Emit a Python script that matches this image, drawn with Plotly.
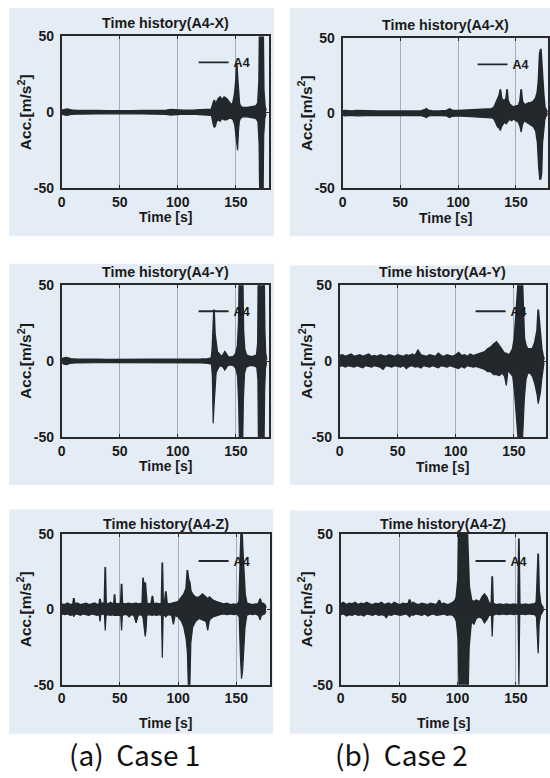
import plotly.graph_objects as go

# ---------------------------------------------------------------
# Acceleration time histories at sensor A4 (peak envelopes, m/s^2)
# Each record: time [s], upper peaks, lower peaks
# ---------------------------------------------------------------

# Case 1 - X direction
c1x_t = [0, 1, 3, 5, 7, 9, 12, 20, 30, 40, 50, 60, 70, 80, 90, 94, 97, 100, 105, 115, 125,
         129, 130.5, 131.5, 132.5, 133.5, 135, 136.5, 138, 140, 142, 144, 146, 147.5, 149,
         150, 150.8, 151.5, 152.3, 153, 154, 156, 160, 164, 167, 169, 170, 170.6, 172, 173.4,
         174, 175, 176]
c1x_hi = [1.2, 1.5, 1.8, 2.0, 1.6, 1.3, 1.2, 1.0, 1.1, 1.0, 1.2, 1.0, 1.1, 1.0, 1.3, 1.8, 1.6,
          1.3, 1.2, 1.4, 1.6, 2.0, 6, 8, 5, 7, 9, 10, 8, 10, 9, 7, 5, 6, 12, 20, 32, 22, 10, 6,
          4, 3, 3, 3.5, 4, 6, 20, 60, 60, 60, 15, 4, 1]
c1x_lo = [-1.2, -1.5, -1.8, -2.0, -1.6, -1.3, -1.2, -1.0, -1.1, -1.0, -1.2, -1.0, -1.1, -1.0,
          -1.3, -1.8, -1.6, -1.3, -1.2, -1.4, -1.6, -2.0, -8, -10, -9, -6, -5, -6, -4, -5, -5,
          -4, -4, -5, -8, -15, -18, -25, -12, -6, -4, -3, -3, -3.5, -4, -6, -20, -60, -60, -60,
          -15, -4, -1]

# Case 2 - X direction
c2x_t = [0, 2, 5, 8, 12, 18, 25, 32, 40, 48, 55, 62, 68, 71, 72.5, 74, 78, 85, 90, 92.5, 95,
         100, 108, 115, 120, 125, 129, 131, 132.5, 134, 135.5, 136.5, 137.5, 138.5, 140, 141.5,
         142.3, 143, 144.5, 146, 148, 150, 152, 153.5, 154.5, 155.5, 157, 159, 161, 163, 165,
         167, 168.5, 169.5, 170.5, 171.5, 172.3, 173, 174, 175, 176, 177]
c2x_hi = [1.5, 1.8, 1.6, 1.4, 1.7, 1.5, 1.6, 1.4, 1.5, 1.6, 1.5, 1.7, 1.6, 2.2, 3.0, 2.0, 1.5,
          1.6, 1.8, 2.8, 2.0, 1.8, 2.0, 2.4, 2.6, 2.8, 3, 4, 7, 9, 12, 16, 10, 9, 8, 10, 16, 9,
          6, 5, 4, 5, 5, 8, 16, 8, 6, 6, 7, 7, 8, 10, 14, 22, 40, 43, 30, 25, 12, 4, 2, 1]
c2x_lo = [-1.5, -1.8, -1.6, -1.4, -1.7, -1.5, -1.6, -1.4, -1.5, -1.6, -1.5, -1.7, -1.6, -2.2,
          -3.0, -2.0, -1.5, -1.6, -1.8, -2.8, -2.0, -1.8, -2.0, -2.4, -2.6, -2.8, -3, -4, -7,
          -9, -10, -11.5, -9, -8, -6, -7, -6, -5, -4, -5, -4, -5, -6, -9, -12.6, -8, -5, -6, -7,
          -8, -9, -12, -20, -35, -44, -44, -40, -20, -10, -4, -2, -1]

# Case 1 - Y direction
c1y_t = [0, 2, 4, 6, 8, 12, 20, 30, 40, 50, 60, 70, 80, 90, 100, 110, 120, 126, 129, 129.8,
         130.5, 131.2, 132, 133, 134, 135.5, 137, 139, 140.5, 141.5, 143, 145, 148, 150, 151.5,
         152.5, 153.2, 155.8, 156.5, 157.5, 159, 162, 165, 168, 169, 169.5, 174.2, 174.8,
         175.5, 176.5]
c1y_hi = [1, 2, 2.3, 1.8, 1.4, 1.2, 1, 1.1, 1, 1, 1.1, 1, 1, 1.1, 1, 1.1, 1.2, 1.5, 2, 8, 20,
          34, 18, 10, 6, 5, 3, 4, 6, 5, 3, 2.5, 3, 5, 10, 25, 60, 60, 20, 8, 4, 3, 3, 4, 12, 60,
          60, 20, 5, 1]
c1y_lo = [-1, -2, -2.3, -1.8, -1.4, -1.2, -1, -1.1, -1, -1, -1.1, -1, -1, -1.1, -1, -1.1,
          -1.2, -1.5, -2, -10, -41, -30, -16, -8, -6, -4, -3, -4, -6, -5, -3, -2.5, -3, -5,
          -10, -30, -60, -60, -25, -8, -4, -3, -3, -4, -12, -60, -60, -20, -5, -1]

# Case 2 - Y direction
c2y_t = [0, 2.5, 5, 7.5, 10, 12.5, 15, 17.5, 20, 22.5, 25, 27.5, 30, 32.5, 35, 37.5, 40, 42.5,
         45, 47.5, 50, 52.5, 55, 57.5, 60, 62.5, 65, 67.5, 70, 72.5, 75, 77.5, 80, 82.5, 85,
         87.5, 90, 92.5, 95, 97.5, 100, 102.5, 105, 107.5, 110, 112.5, 115, 117.5, 120, 122.5,
         125, 127.5, 130, 132.5, 135, 137.5, 140, 142, 143.5, 145, 147, 149, 150.5, 152, 153.5,
         154.5, 157, 158, 159, 160.5, 162, 164, 166, 168, 170, 171, 172, 173, 174, 175, 176]
c2y_hi = [3.5, 4, 3, 3.5, 4.5, 3, 3.5, 4, 3, 3.5, 4.5, 3, 3.5, 3, 4, 3.5, 3, 4, 3.5, 3, 4, 3.5,
          3, 4, 3.5, 4.5, 3.5, 7, 4, 3.5, 3, 4, 3.5, 3, 5, 3.5, 3, 4, 3.5, 3, 4, 5.5, 3.5, 4, 3,
          4.5, 3.5, 4, 4.5, 5.5, 6, 8, 9, 11, 12.5, 10, 7, 5, 5, 4, 5, 8, 15, 30, 45, 60, 60, 30,
          15, 10, 8, 8, 8, 12, 20, 34, 25, 15, 8, 4, 1]
c2y_lo = [-3.5, -3, -4, -3, -3.5, -4, -3, -3.5, -4.5, -3, -3.5, -4, -3, -3.5, -4, -5.5, -3,
          -3.5, -4, -3, -3.5, -4, -3, -5, -3.5, -3, -4, -3.5, -4.5, -3, -3.5, -4, -3, -3.5,
          -4.5, -3, -3.5, -4, -3, -3.5, -4, -5, -3.5, -4.5, -3, -3.5, -4, -3.5, -4, -5, -5.5,
          -7, -7, -9, -9, -9.5, -8, -10, -16, -6, -8, -10, -20, -40, -60, -60, -60, -40, -25,
          -12, -8, -8, -10, -15, -22, -28, -25, -20, -12, -6, -1]

# Case 1 - Z direction
c1z_t = [0, 2.5, 5, 7.5, 9.8, 10.5, 11.2, 13.5, 16, 18.5, 21, 23.5, 26, 28.5, 30.5, 32.3, 33,
         33.7, 35.5, 36.8, 37.5, 38.2, 40, 42, 44, 45, 45.5, 46, 48, 50.8, 51.5, 52.2, 54, 56,
         58, 60, 62, 64, 66, 68, 69.3, 70, 71, 71.8, 72.5, 73.2, 75, 77, 78, 79, 81.5, 84,
         85.8, 86.5, 87.2, 88.5, 89.5, 90.5, 92.5, 94.5, 96, 97.5, 100, 103, 105, 107, 108,
         109, 110, 111, 112.5, 115, 118, 121, 124, 125.5, 127, 130, 133, 136, 139, 142, 145,
         148, 150.5, 152.5, 153.5, 154.5, 155.5, 156.5, 157.5, 159, 161.5, 164, 166.5, 169,
         170.5, 171.5, 173, 174.5, 175.5]
c1z_hi = [3.5, 3, 4, 3, 3.5, 7.5, 3.5, 4, 3, 3.5, 4, 3, 3.5, 4, 3, 3.5, 7, 3.5, 4, 3.5, 28, 4,
          3.5, 4.5, 3.5, 4, 10, 4, 3.5, 4, 17, 4, 3.5, 4, 4, 3.5, 4, 4, 3.5, 4, 4, 21, 8, 18, 6,
          4, 3.5, 4, 9, 3.5, 4, 3.5, 4, 31, 4, 4.5, 12, 4, 3.5, 4, 4, 4.5, 5, 8, 10, 14, 26, 20,
          18, 12, 10, 8, 8, 10, 8, 7, 8, 6, 5, 4, 3.5, 4, 3, 3.5, 3, 5, 60, 60, 40, 22, 10, 4,
          3.5, 3, 3.5, 3.5, 7, 4, 4, 3, 1]
c1z_lo = [-3, -3.5, -3, -4, -3.5, -5, -3.5, -3, -4, -3, -3.5, -4, -3, -3.5, -4, -3.5, -8, -3.5,
          -3, -3.5, -14, -4, -3.5, -4, -3.5, -4, -4, -4, -3.5, -4, -14, -4, -3.5, -3.5, -5,
          -3.5, -4, -9, -3.5, -4, -4, -6, -12, -18, -14, -4, -3.5, -4, -4, -3.5, -4, -3.5, -4,
          -32, -4, -4, -5, -4, -3.5, -4, -10, -4, -5, -8, -12, -20, -28, -55, -55, -22, -12,
          -8, -6, -7, -8, -14, -7, -5, -4, -3.5, -3, -3.5, -3, -3.5, -3, -5, -30, -46, -40,
          -25, -12, -4, -3, -3.5, -3, -4, -7, -4, -3.5, -3, -1]

# Case 2 - Z direction
c2z_t = [0, 2.5, 5, 7.5, 10, 12.5, 15, 17.5, 20, 22.5, 25, 27.5, 30, 32.5, 35, 37.5, 39, 41,
         43.5, 46, 48.5, 51, 53.5, 56, 58, 59, 60.5, 62, 64.5, 67, 69.5, 72, 74.5, 77, 79.5,
         82, 84.5, 86, 88.5, 91, 93.5, 96, 98, 99, 100.5, 101.5, 108, 109, 110, 112, 114, 116,
         119, 121, 123, 125, 127, 129, 129.7, 130.4, 133, 136, 139, 142, 145, 148, 150.5,
         151.8, 152.5, 153.2, 155, 158, 161, 164, 166, 167.5, 168.3, 169, 169.8, 171, 172.5,
         173.5]
c2z_hi = [3.5, 4.5, 3, 4, 3.5, 4.5, 3, 4, 3.5, 4.5, 3.5, 3, 4, 3.5, 4.5, 3, 3.5, 4, 3, 4.5,
          3.5, 3, 4, 3.5, 4, 6.5, 3.5, 4.5, 3.5, 3, 4, 3.5, 3, 4, 3.5, 3, 6, 3.5, 4, 3, 3.5,
          4.5, 6, 8, 20, 60, 60, 35, 15, 6, 5, 6, 5, 8, 10, 8, 4, 4, 22, 4, 3, 3.5, 3, 3.5, 3,
          3.5, 3, 3.5, 47, 3.5, 3, 3.5, 3, 3.5, 3.5, 5, 28, 37, 12, 4, 2, 0.5]
c2z_lo = [-3.5, -3, -4.5, -3.5, -4, -3, -4, -3.5, -4.5, -3, -3.5, -4, -3, -4, -3.5, -4, -5.5,
          -3.5, -4, -3, -3.5, -4, -3.5, -3, -4, -5, -3.5, -4, -3, -3.5, -4, -3, -4.5, -3.5, -3,
          -4, -4, -3.5, -3, -4, -3.5, -4, -6, -8, -20, -60, -60, -60, -25, -8, -10, -6, -5, -6,
          -9, -7, -4, -4, -18, -4, -3, -3.5, -3, -3.5, -3, -3.5, -3, -3.5, -50, -3.5, -3, -3.5,
          -3, -3.5, -3.5, -5, -22, -29, -10, -4, -2, -0.5]

# Axis labels and titles
panel_titles = ["Time history(A4-X)", "Time history(A4-X)",
                "Time history(A4-Y)", "Time history(A4-Y)",
                "Time history(A4-Z)", "Time history(A4-Z)"]
x_ticks = [0, 50, 100, 150]
y_ticks = [-50, 0, 50]
y_tick_text = ["-50", "0", "50"]
legend_name = "A4"
x_label = "Time [s]"
y_label = "Acc.[m/s<sup>2</sup>]"
case_labels = ["(a)\u00a0\u00a0Case\u00a01", "(b)\u00a0\u00a0Case\u00a02"]

records = [(c1x_t, c1x_hi, c1x_lo), (c2x_t, c2x_hi, c2x_lo),
           (c1y_t, c1y_hi, c1y_lo), (c2y_t, c2y_hi, c2y_lo),
           (c1z_t, c1z_hi, c1z_lo), (c2z_t, c2z_hi, c2z_lo)]
for t, hi, lo in records:
    assert len(t) == len(hi) == len(lo), (len(t), len(hi), len(lo))

# ---------------------------------------------------------------
# Layout geometry (pixels in a 550 x 778 page)
# ---------------------------------------------------------------
W, H = 550, 778
FONT = "Liberation Sans, Arial, sans-serif"
INK = "#1a1a1a"
SIG = "#23282d"
PAPER_BLUE = "#e4ecf5"
GRID = "rgba(110,122,140,0.55)"

# plot boxes: left, right, top, bottom
boxes = [(58, 267, 29, 184), (341, 548, 31, 184),
         (58, 267, 283, 438), (338, 546, 283, 438),
         (58, 268, 537, 691), (339, 546, 537, 691)]
x_max = [178.6, 177.7, 178.6, 177.7, 179.0, 175.7]
title_y = [15, 17, 270, 270, 527, 527]
xlabel_y = [213, 214, 468, 469, 730, 730]
ylabel_x = [21, 304, 21, 304, 21, 304]
legend_xy = [(191, 56), (472, 58), (191, 310), (470, 310), (191, 565), (470, 565)]
# scanned-paper backgrounds behind each panel: x0, x1, y0, y1
sheets = [(5, 272, 0, 233), (288, 550, 0, 233),
          (5, 272, 261, 487), (288, 550, 263, 487),
          (5, 271, 512, 741), (288, 550, 513, 741)]


def fx(px):
    return px / W


def fy(py):
    return 1 - py / H


fig = go.Figure()
layout = dict(
    width=W, height=H,
    margin=dict(l=0, r=0, t=0, b=0),
    paper_bgcolor="white",
    plot_bgcolor="rgba(0,0,0,0)",
    font=dict(family=FONT, color=INK),
    shapes=[], annotations=[],
)

for i, ((t, hi, lo), (l, r, tp, bt)) in enumerate(zip(records, boxes), start=1):
    sfx = "" if i == 1 else str(i)
    leg = "legend" + sfx
    fig.add_trace(go.Scatter(
        x=t, y=hi, mode="lines", name=legend_name,
        line=dict(color=SIG, width=1.8),
        xaxis="x" + sfx, yaxis="y" + sfx, legend=leg, showlegend=True,
        hoverinfo="skip"))
    fig.add_trace(go.Scatter(
        x=t, y=lo, mode="lines", name=legend_name,
        line=dict(color=SIG, width=1.2),
        fill="tonexty", fillcolor=SIG,
        xaxis="x" + sfx, yaxis="y" + sfx, legend=leg, showlegend=False,
        hoverinfo="skip"))

    layout["xaxis" + sfx] = dict(
        domain=[fx(l), fx(r)], anchor="y" + sfx, range=[0, x_max[i - 1]],
        tickvals=x_ticks, showgrid=True, gridcolor=GRID, gridwidth=1,
        zeroline=False, showline=True, linecolor="#2a2a2a", linewidth=1.6,
        mirror="ticks", ticks="inside", ticklen=3, tickcolor="#2a2a2a",
        tickfont=dict(size=14, color=INK, weight="bold"), ticklabelstandoff=0)
    layout["yaxis" + sfx] = dict(
        domain=[fy(bt), fy(tp)], anchor="x" + sfx, range=[-50, 50],
        tickvals=y_ticks, ticktext=y_tick_text, showgrid=False, zeroline=False,
        showline=True, linecolor="#2a2a2a", linewidth=1.6, mirror="ticks",
        ticks="inside", ticklen=3, tickcolor="#2a2a2a",
        tickfont=dict(size=14, color=INK, weight="bold"), ticklabelstandoff=3)

    lx, ly = legend_xy[i - 1]
    layout[leg] = dict(
        x=fx(lx), y=fy(ly), xanchor="left", yanchor="middle",
        bgcolor="rgba(0,0,0,0)", borderwidth=0, itemwidth=30,
        font=dict(family=FONT, size=12.5, color=INK, weight="bold"))

    sx0, sx1, sy0, sy1 = sheets[i - 1]
    layout["shapes"].append(dict(
        type="rect", xref="paper", yref="paper", layer="below",
        x0=fx(sx0), x1=fx(sx1), y0=fy(sy1), y1=fy(sy0),
        fillcolor=PAPER_BLUE, line=dict(width=0)))

    cx = (l + r) / 2
    layout["annotations"] += [
        dict(text=panel_titles[i - 1], xref="paper", yref="paper",
             x=fx(cx), y=fy(title_y[i - 1]), xanchor="center", yanchor="middle",
             showarrow=False, font=dict(size=14.3, color=INK, weight="bold")),
        dict(text=x_label, xref="paper", yref="paper",
             x=fx(cx), y=fy(xlabel_y[i - 1]), xanchor="center", yanchor="middle",
             showarrow=False, font=dict(size=14, color=INK, weight="bold")),
        dict(text=y_label, xref="paper", yref="paper", textangle=-90,
             x=fx(ylabel_x[i - 1]), y=fy((tp + bt) / 2), xanchor="center",
             yanchor="middle", showarrow=False,
             font=dict(size=15.5, color=INK, weight="bold")),
    ]

for label, cx in zip(case_labels, [131, 400]):
    layout["annotations"].append(dict(
        text=label, xref="paper", yref="paper", x=fx(cx), y=fy(762),
        xanchor="center", yanchor="middle", showarrow=False,
        font=dict(family="Noto Sans CJK KR, sans-serif", size=28, color="#111111")))

fig.update_layout(**layout)
fig.write_html("out.html")
